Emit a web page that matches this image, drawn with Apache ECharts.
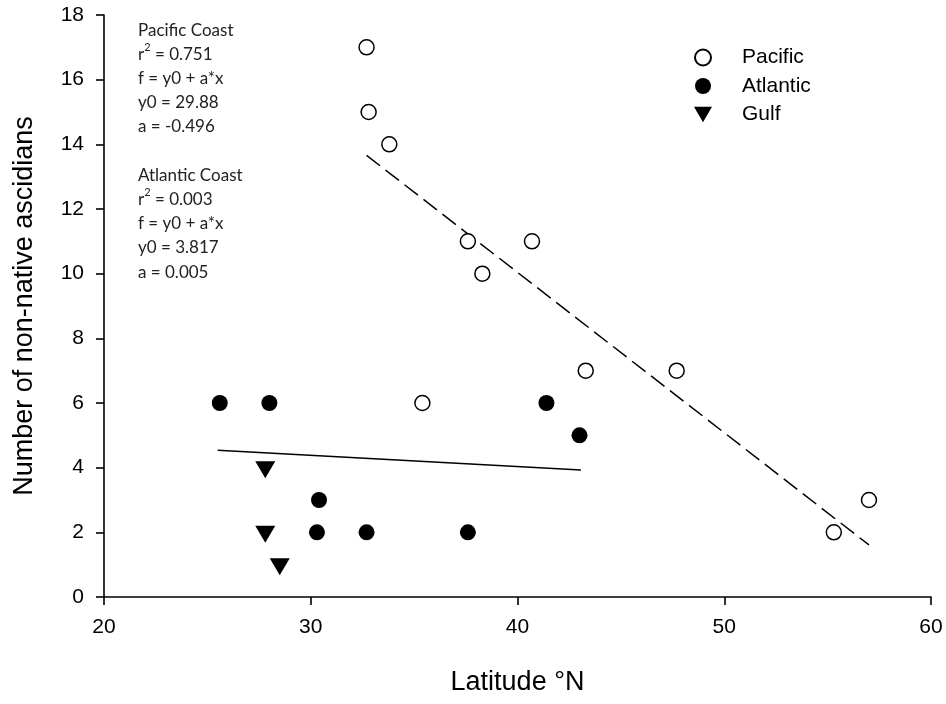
<!DOCTYPE html>
<html>
<head>
<meta charset="utf-8">
<script src="https://cdn.jsdelivr.net/npm/echarts@6/dist/echarts.min.js"></script>
<style>
  html, body { margin: 0; padding: 0; background: #fff; }
  #chart { width: 946px; height: 704px; }
</style>
</head>
<body>
<div id="chart"></div>
<script>
// values
const pacific = [[32.7, 17], [32.8, 15], [33.8, 14], [37.6, 11], [40.7, 11], [38.3, 10],
  [43.3, 7], [47.7, 7], [35.4, 6], [55.3, 2], [57.0, 3]]
const atlantic = [[25.6, 6], [28.0, 6], [30.4, 3], [30.3, 2], [32.7, 2], [37.6, 2], [41.4, 6], [43.0, 5]]
const gulf = [[27.8, 4], [27.8, 2], [28.5, 1]]
// fitted lines, end points as drawn
const pacificFit = [[32.7, 13.66], [57.0, 1.61]]
const atlanticFit = [[25.5, 4.54], [43.07, 3.93]]
const xTicks = [20, 30, 40, 50, 60]
const yTicks = [0, 2, 4, 6, 8, 10, 12, 14, 16, 18]
const statLines = [
  'Pacific Coast', 'r{sup|2} = 0.751', 'f = y0 + a*x', 'y0 = 29.88', 'a = -0.496', '',
  'Atlantic Coast', 'r{sup|2} = 0.003', 'f = y0 + a*x', 'y0 = 3.817', 'a = 0.005'
]

const FONT = '"Liberation Sans", Arial, sans-serif'
const chart = echarts.init(document.getElementById('chart'), null, { renderer: 'canvas' })

const axisCommon = {
  axisLine: { lineStyle: { color: '#000', width: 1.6 } },
  axisTick: { inside: false, length: 8, lineStyle: { color: '#000', width: 1.6 } },
  splitLine: { show: false },
  nameLocation: 'middle',
  nameTextStyle: { fontFamily: FONT, fontSize: 27, color: '#000' }
}

chart.setOption({
  animation: false,
  backgroundColor: '#fff',
  grid: { left: 104, right: 15, top: 15, bottom: 107, containLabel: false, outerBoundsMode: 'none' },
  xAxis: Object.assign({}, axisCommon, {
    type: 'value',
    min: xTicks[0], max: xTicks[xTicks.length - 1], interval: 10,
    name: 'Latitude °N',
    nameGap: 72,
    axisLabel: { margin: 20, fontFamily: FONT, fontSize: 21, color: '#000' }
  }),
  yAxis: Object.assign({}, axisCommon, {
    type: 'value',
    min: yTicks[0], max: yTicks[yTicks.length - 1], interval: 2,
    name: 'Number of non-native ascidians',
    nameGap: 66,
    axisLabel: { margin: 20, fontFamily: FONT, fontSize: 21, color: '#000' }
  }),
  legend: {
    orient: 'vertical',
    left: 689, top: 42,
    itemWidth: 18, itemHeight: 16, itemGap: 7.5,
    data: [
      { name: 'Pacific' },
      { name: 'Atlantic' },
      { name: 'Gulf', icon: 'path://M0,0L20,0L10,17Z' }
    ],
    textStyle: { fontFamily: FONT, fontSize: 21, color: '#000', padding: [0, 0, 0, 25] }
  },
  graphic: [{
    type: 'text',
    left: 138, top: 18,
    style: {
      text: statLines.join('\n'),
      fontFamily: 'Lato, "Open Sans", sans-serif',
      fontSize: 17,
      lineHeight: 24.2,
      fill: '#222',
      rich: { sup: { fontFamily: 'Lato, sans-serif', fontSize: 11, fill: '#222', verticalAlign: 'top', lineHeight: 15 } }
    }
  }],
  series: [
    {
      name: 'Pacific Fit', type: 'line', data: pacificFit, symbol: 'none', silent: true,
      lineStyle: { color: '#000', width: 1.5, type: [17, 7] }, z: 1
    },
    {
      name: 'Atlantic Fit', type: 'line', data: atlanticFit, symbol: 'none', silent: true,
      lineStyle: { color: '#000', width: 1.5 }, z: 1
    },
    {
      name: 'Pacific', type: 'scatter', data: pacific, symbol: 'circle', symbolSize: 15,
      itemStyle: { color: '#fff', borderColor: '#000', borderWidth: 1.5, opacity: 1 }, z: 3
    },
    {
      name: 'Atlantic', type: 'scatter', data: atlantic, symbol: 'circle', symbolSize: 16,
      itemStyle: { color: '#000', opacity: 1 }, z: 3
    },
    {
      name: 'Gulf', type: 'scatter', data: gulf, symbol: 'triangle', symbolRotate: 180,
      symbolSize: [20, 17], symbolOffset: [0, 2],
      itemStyle: { color: '#000', opacity: 1 }, z: 3
    }
  ]
})
</script>
</body>
</html>
